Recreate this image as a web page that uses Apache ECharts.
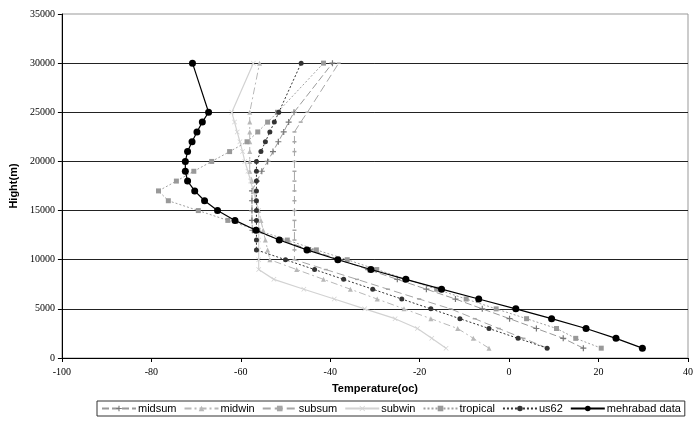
<!DOCTYPE html>
<html>
<head>
    <meta charset="utf-8">
    <title>Temperature profiles</title>
    <script src="https://cdn.jsdelivr.net/npm/echarts@6/dist/echarts.min.js"></script>
    <style>
        html, body { margin: 0; padding: 0; background: #fff; }
        #chart-container { width: 696px; height: 423px; }
    </style>
</head>
<body>
<div id="chart-container"></div>

<script>
    // heights (m) of every profile level
    var heights = [1000, 2000, 3000, 4000, 5000, 6000, 7000, 8000, 9000, 10000,
        11000, 12000, 13000, 14000, 15000, 16000, 17000, 18000, 19000, 20000,
        21000, 22000, 23000, 24000, 25000, 30000];

    // temperatures (oC) per level
    var midsum = [16.6, 12.1, 6.1, 0.1, -6.0, -12.0, -18.5, -25.0, -31.5, -37.9,
        -44.4, -50.9, -57.4, -57.5, -57.5, -57.5, -57.5, -56.4, -55.3, -54.0,
        -52.8, -51.6, -50.4, -49.3, -48.1, -39.5];
    var midwin = [-4.5, -8.0, -11.5, -17.5, -23.5, -29.5, -35.5, -41.5, -47.5, -53.5,
        -54.0, -54.5, -55.0, -55.5, -56.0, -56.5, -57.0, -57.5, -58.0, -58.0,
        -58.0, -58.0, -58.0, -58.0, -58.0, -55.8];
    var subsum = [8.6, 3.2, -2.3, -7.7, -13.1, -20.1, -27.1, -34.0, -41.0, -48.0,
        -48.0, -48.0, -48.0, -48.0, -48.0, -48.0, -48.0, -48.0, -48.0, -48.0,
        -48.0, -48.0, -48.0, -46.6, -45.1, -38.1];
    var subwin = [-14.1, -17.3, -20.5, -25.5, -32.3, -39.1, -45.9, -52.6, -56.0, -56.0,
        -56.0, -56.0, -56.0, -56.0, -56.0, -56.6, -57.2, -57.8, -58.4, -59.1,
        -59.6, -60.2, -60.8, -61.4, -62.0, -57.2];
    var tropical = [20.6, 14.9, 10.6, 3.9, -2.9, -9.6, -16.2, -22.9, -29.6, -36.2,
        -43.1, -49.6, -56.2, -62.9, -69.5, -76.2, -78.4, -74.4, -70.5, -66.5,
        -62.5, -58.6, -56.2, -54.0, -51.8, -41.5];
    var us62 = [8.5, 2.0, -4.5, -11.0, -17.5, -24.0, -30.5, -37.0, -43.5, -50.0,
        -56.5, -56.5, -56.5, -56.5, -56.5, -56.5, -56.5, -56.5, -56.5, -56.5,
        -55.5, -54.5, -53.5, -52.5, -51.5, -46.5];
    var mehrabad = [29.8, 23.9, 17.2, 9.5, 1.5, -6.8, -15.1, -23.1, -30.9, -38.3,
        -45.2, -51.4, -56.6, -61.3, -65.2, -68.1, -70.3, -71.9, -72.4, -72.4,
        -71.9, -70.9, -69.8, -68.6, -67.2, -70.8];

    var xTicks = [-100, -80, -60, -40, -20, 0, 20, 40];
    var yTicks = [0, 5000, 10000, 15000, 20000, 25000, 30000, 35000];

    function pairs(temps) {
        return temps.map(function (t, i) { return [t, heights[i]]; });
    }

    var plusPath = 'path://M4,0H6V4H10V6H6V10H4V6H0V4H4Z';
    var crossPath = 'path://M1,0L5,4L9,0L10,1L6,5L10,9L9,10L5,6L1,10L0,9L4,5L0,1Z';

    function line(name, temps, color, type, symbol, size, width, markColor) {
        return {
            name: name,
            type: 'line',
            data: pairs(temps),
            symbol: symbol,
            symbolSize: size,
            showSymbol: true,
            lineStyle: { color: color, width: width, type: type },
            itemStyle: { color: markColor || color },
            z: name === 'mehrabad data' ? 5 : 3
        };
    }

    var myChart = echarts.init(document.getElementById('chart-container'));

    var option = {
        animation: false,
        textStyle: { fontFamily: 'Liberation Sans' },
        grid: {
            left: 59, right: 7, top: 14, bottom: 65,
            show: true, borderColor: '#999', borderWidth: 1
        },
        xAxis: {
            type: 'value',
            min: xTicks[0],
            max: xTicks[xTicks.length - 1],
            interval: 20,
            name: 'Temperature(oc)',
            nameLocation: 'middle',
            nameGap: 25,
            nameTextStyle: { fontWeight: 'bold', fontSize: 11, color: '#000' },
            axisLine: { onZero: false, lineStyle: { color: '#000', width: 1 } },
            axisTick: { show: true, length: 4, lineStyle: { color: '#000' } },
            axisLabel: { fontFamily: 'Liberation Serif', fontSize: 10, color: '#000', margin: 9 },
            splitLine: { show: false }
        },
        yAxis: {
            type: 'value',
            min: yTicks[0],
            max: yTicks[yTicks.length - 1],
            interval: 5000,
            name: 'Hight(m)',
            nameLocation: 'middle',
            nameGap: 40,
            nameTextStyle: { fontWeight: 'bold', fontSize: 11, color: '#000' },
            axisLine: { show: true, onZero: false, lineStyle: { color: '#000', width: 1 } },
            axisTick: { show: true, length: 4, lineStyle: { color: '#000' } },
            axisLabel: {
                fontFamily: 'Liberation Serif', fontSize: 10, color: '#000', margin: 7,
                formatter: function (v) { return String(v); }
            },
            splitLine: { show: true, showMaxLine: false, lineStyle: { color: '#222', width: 1 } }
        },
        legend: {
            left: 97,
            top: 401,
            orient: 'horizontal',
            itemWidth: 34,
            itemHeight: 7,
            itemGap: 7,
            padding: [2, 4, 2, 4],
            borderColor: '#333',
            borderWidth: 1,
            textStyle: { fontSize: 11, color: '#000', fontFamily: 'Liberation Sans', padding: [0, 0, 0, -3] },
            data: ['midsum', 'midwin', 'subsum', 'subwin', 'tropical', 'us62', 'mehrabad data']
        },
        series: [
            line('midsum', midsum, '#999', [7, 3], plusPath, 6, 1, '#777'),
            line('midwin', midwin, '#b8b8b8', [7, 3, 2, 3], 'triangle', 5, 1),
            line('subsum', subsum, '#a6a6a6', [8, 4], 'rect', [4, 1.5], 1),
            line('subwin', subwin, '#d2d2d2', 'solid', crossPath, 5, 1.2),
            line('tropical', tropical, '#a0a0a0', [2, 2], 'rect', 5, 1, '#999'),
            line('us62', us62, '#333', [2, 2], 'circle', 5, 1),
            line('mehrabad data', mehrabad, '#000', 'solid', 'circle', 7, 1.2)
        ]
    };

    myChart.setOption(option);
</script>
</body>
</html>
